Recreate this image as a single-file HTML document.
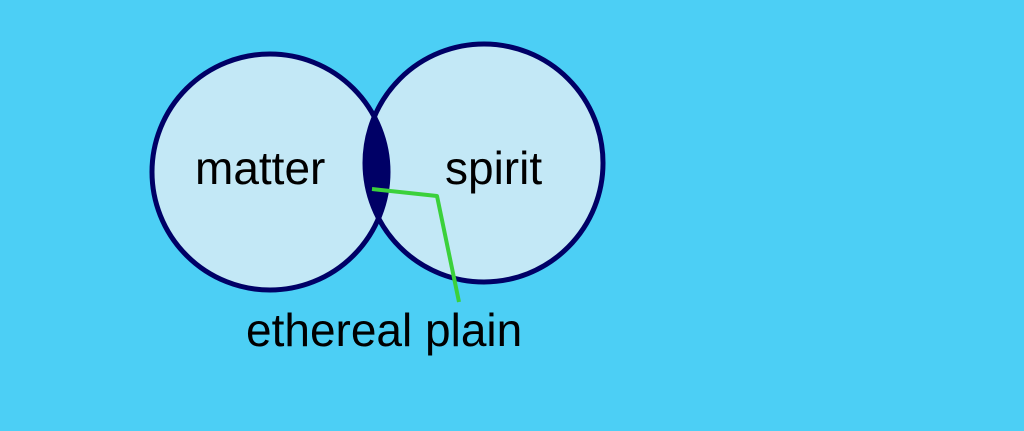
<!DOCTYPE html>
<html><head><style>
html,body{margin:0;padding:0;background:#4ccff5;width:1024px;height:431px;overflow:hidden}
svg{display:block}
text{font-family:"Liberation Sans",sans-serif;fill:#000}
</style></head><body>
<svg width="1024" height="431" viewBox="0 0 1024 431">
<defs><clipPath id="c"><circle cx="484" cy="163" r="119"/></clipPath></defs>
<rect width="1024" height="431" fill="#4ccff5"/>
<circle cx="270" cy="172" r="118" fill="#c3e8f6"/>
<circle cx="484" cy="163" r="119" fill="#c3e8f6"/>
<circle cx="270" cy="172" r="118" fill="#000066" clip-path="url(#c)"/>
<circle cx="270" cy="172" r="118" fill="none" stroke="#000066" stroke-width="5"/>
<circle cx="484" cy="163" r="119" fill="none" stroke="#000066" stroke-width="5"/>
<polyline points="372,189 437,196 459,302" fill="none" stroke="#3bd13b" stroke-width="4" stroke-linejoin="round"/>
<text x="195" y="184" font-size="46">matter</text>
<text x="445" y="184" font-size="46">spirit</text>
<text x="246" y="346" font-size="46">ethereal plain</text>
</svg>
</body></html>
